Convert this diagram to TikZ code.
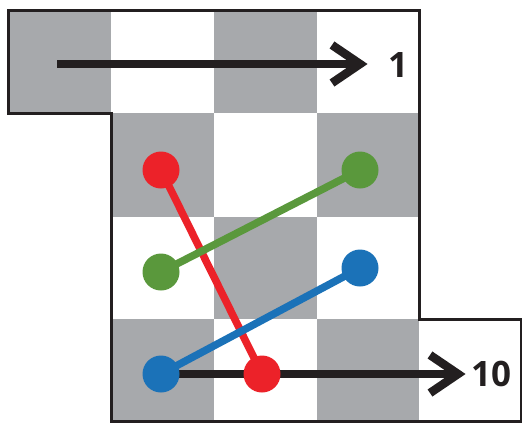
\documentclass[tikz,border=0pt]{standalone}
\usepackage{fontspec}
\setmainfont{Open Sans}
\usetikzlibrary{calc}
\definecolor{cellgray}{HTML}{A7A9AC}
\definecolor{dotred}{HTML}{EC2229}
\definecolor{dotgreen}{HTML}{5A983C}
\definecolor{dotblue}{HTML}{1B72B8}
\definecolor{ink}{HTML}{231F20}
\pgfdeclarelayer{cells}
\pgfdeclarelayer{arrows}
\pgfdeclarelayer{links}
\pgfsetlayers{cells,arrows,links,main}
\tikzset{
  graycell/.style={fill=cellgray},
  outline/.style={draw=ink, line width=3pt, line join=miter},
  dot/.style={circle, minimum size=37pt, inner sep=0pt, fill=#1},
  link/.style={draw=#1, line width=7.5pt},
  bigarrow/.style={draw=ink, line width=8.5pt},
  chevron/.style={draw=ink, line width=8.5pt, line join=miter, line cap=butt},
  numlabel/.style={font=\fontsize{35}{38}\selectfont\bfseries, text=ink, inner sep=0pt}
}
\begin{document}
\begin{tikzpicture}[x=1pt,y=-1pt]
\useasboundingbox (0,0) rectangle (522,424);
% dots (nodes)
\node[dot=dotred] (r1) at (161,170) {};
\node[dot=dotred] (r2) at (262,374) {};
\node[dot=dotgreen] (g1) at (360,170) {};
\node[dot=dotgreen] (g2) at (161,272) {};
\node[dot=dotblue] (b1) at (360,268) {};
\node[dot=dotblue] (b2) at (161,374) {};
\node[numlabel] (l1) at (398,65) {1};
\node[numlabel] (l10) at (491,374) {10};
\coordinate (a1s) at (57,64);
\coordinate (a1e) at (360,64);
\coordinate (a10e) at (458,374);
\begin{pgfonlayer}{cells}
\fill[white] (0,0) rectangle (522,424);
\fill[graycell] (8,10) rectangle (111,113);
\fill[graycell] (214,10) rectangle (317,113);
\fill[graycell] (111,113) rectangle (214,217);
\fill[graycell] (317,113) rectangle (419,217);
\fill[graycell] (214,217) rectangle (317,319);
\fill[graycell] (111,319) rectangle (214,421);
\fill[graycell] (317,319) rectangle (419,421);
\draw[outline] (8,10) -- (419,10) -- (419,319) -- (521,319) -- (521,421) -- (111,421) -- (111,113) -- (8,113) -- cycle;
\end{pgfonlayer}
\begin{pgfonlayer}{arrows}
\draw[bigarrow] (a1s) -- (a1e);
\draw[chevron] ($(a1e)+(-28,-19)$) -- (a1e) -- ($(a1e)+(-28,19)$);
\draw[bigarrow] (b2.center) -- (a10e);
\draw[chevron] ($(a10e)+(-28,-19)$) -- (a10e) -- ($(a10e)+(-28,19)$);
\end{pgfonlayer}
\begin{pgfonlayer}{links}
\draw[link=dotred] (r1.center) -- (r2.center);
\draw[link=dotgreen] (g1.center) -- (g2.center);
\draw[link=dotblue] (b1.center) -- (b2.center);
\end{pgfonlayer}
\end{tikzpicture}
\end{document}
